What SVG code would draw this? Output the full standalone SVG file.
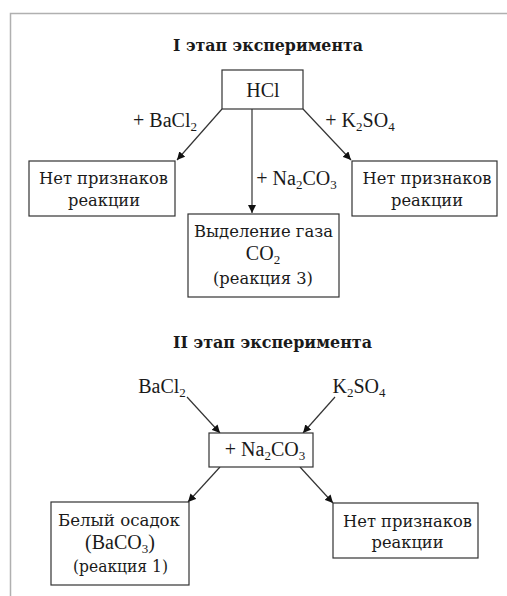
<svg xmlns="http://www.w3.org/2000/svg" width="507" height="596" viewBox="0 0 507 596">
<style>
text{font-family:"Liberation Serif","DejaVu Serif",serif;font-size:20px;fill:#1a1a1a;text-anchor:middle}
.r{font-family:"DejaVu Serif","Liberation Serif",serif;font-size:17px}
.t{font-weight:bold;font-size:16px}
.s{font-size:13px}
.b{fill:#fff;stroke:#333;stroke-width:1.2}
.c{stroke:#333;stroke-width:1.2;fill:none;marker-end:url(#a)}
</style>
<defs>
<marker id="a" viewBox="0 0 10 10" refX="10" refY="5" markerWidth="8" markerHeight="8" markerUnits="userSpaceOnUse" orient="auto">
<path d="M0,0 L10,5 L0,10 z" fill="#111"/>
</marker>
</defs>
<rect width="507" height="596" fill="#fff"/>
<path d="M10.5,596 V13.5 H507" fill="none" stroke="#b0b0b0" stroke-width="1.5"/>
<text class="r t" x="268" y="51" textLength="190" lengthAdjust="spacingAndGlyphs">I этап эксперимента</text>
<text class="r t" x="272.5" y="348" textLength="199" lengthAdjust="spacingAndGlyphs">II этап эксперимента</text>
<g id="connectors">
<line class="c" x1="222" y1="109" x2="177" y2="160"/>
<line class="c" x1="252" y1="109" x2="252" y2="213"/>
<line class="c" x1="303" y1="109" x2="351" y2="160"/>
<line class="c" x1="187" y1="397" x2="220" y2="433"/>
<line class="c" x1="335" y1="397" x2="303" y2="433"/>
<line class="c" x1="220" y1="467" x2="188" y2="502"/>
<line class="c" x1="300" y1="467" x2="333" y2="503"/>
<text x="165" y="127">+ BaCl<tspan class="s" dy="4">2</tspan></text>
<text x="360" y="127">+ K<tspan class="s" dy="4">2</tspan><tspan dy="-4">SO</tspan><tspan class="s" dy="4">4</tspan></text>
<text x="296.5" y="185">+ Na<tspan class="s" dy="4">2</tspan><tspan dy="-4">CO</tspan><tspan class="s" dy="4">3</tspan></text>
<text x="162" y="393">BaCl<tspan class="s" dy="4">2</tspan></text>
<text x="359" y="393">K<tspan class="s" dy="4">2</tspan><tspan dy="-4">SO</tspan><tspan class="s" dy="4">4</tspan></text>
</g>
<g id="hcl"><rect class="b" x="222" y="70" width="81" height="39"/><text x="263" y="97">HCl</text></g>
<g id="no1"><rect class="b" x="29" y="161" width="146" height="55"/><text class="r" x="103.5" y="184" textLength="129" lengthAdjust="spacingAndGlyphs">Нет признаков</text><text class="r" x="104" y="206" textLength="72" lengthAdjust="spacingAndGlyphs">реакции</text></g>
<g id="gas"><rect class="b" x="188" y="214" width="151" height="83"/><text class="r" x="263.5" y="237" textLength="139" lengthAdjust="spacingAndGlyphs">Выделение газа</text><text x="263" y="260">CO<tspan class="s" dy="4">2</tspan></text><text class="r" x="263" y="284" textLength="100" lengthAdjust="spacingAndGlyphs">(реакция 3)</text></g>
<g id="no2"><rect class="b" x="352" y="161" width="145" height="55"/><text class="r" x="427" y="184" textLength="129" lengthAdjust="spacingAndGlyphs">Нет признаков</text><text class="r" x="427" y="206" textLength="72" lengthAdjust="spacingAndGlyphs">реакции</text></g>
<g id="na2co3"><rect class="b" x="209" y="433" width="104" height="34"/><text x="265" y="456">+ Na<tspan class="s" dy="4">2</tspan><tspan dy="-4">CO</tspan><tspan class="s" dy="4">3</tspan></text></g>
<g id="white"><rect class="b" x="51" y="502" width="138" height="83"/><text class="r" x="119" y="526" textLength="122" lengthAdjust="spacingAndGlyphs">Белый осадок</text><text x="120" y="549">(BaCO<tspan class="s" dy="4">3</tspan><tspan dy="-4">)</tspan></text><text class="r" x="120.5" y="572" textLength="95" lengthAdjust="spacingAndGlyphs">(реакция 1)</text></g>
<g id="no3"><rect class="b" x="333" y="503" width="145" height="55"/><text class="r" x="407.5" y="527" textLength="129" lengthAdjust="spacingAndGlyphs">Нет признаков</text><text class="r" x="407.5" y="548" textLength="72" lengthAdjust="spacingAndGlyphs">реакции</text></g>
</svg>
